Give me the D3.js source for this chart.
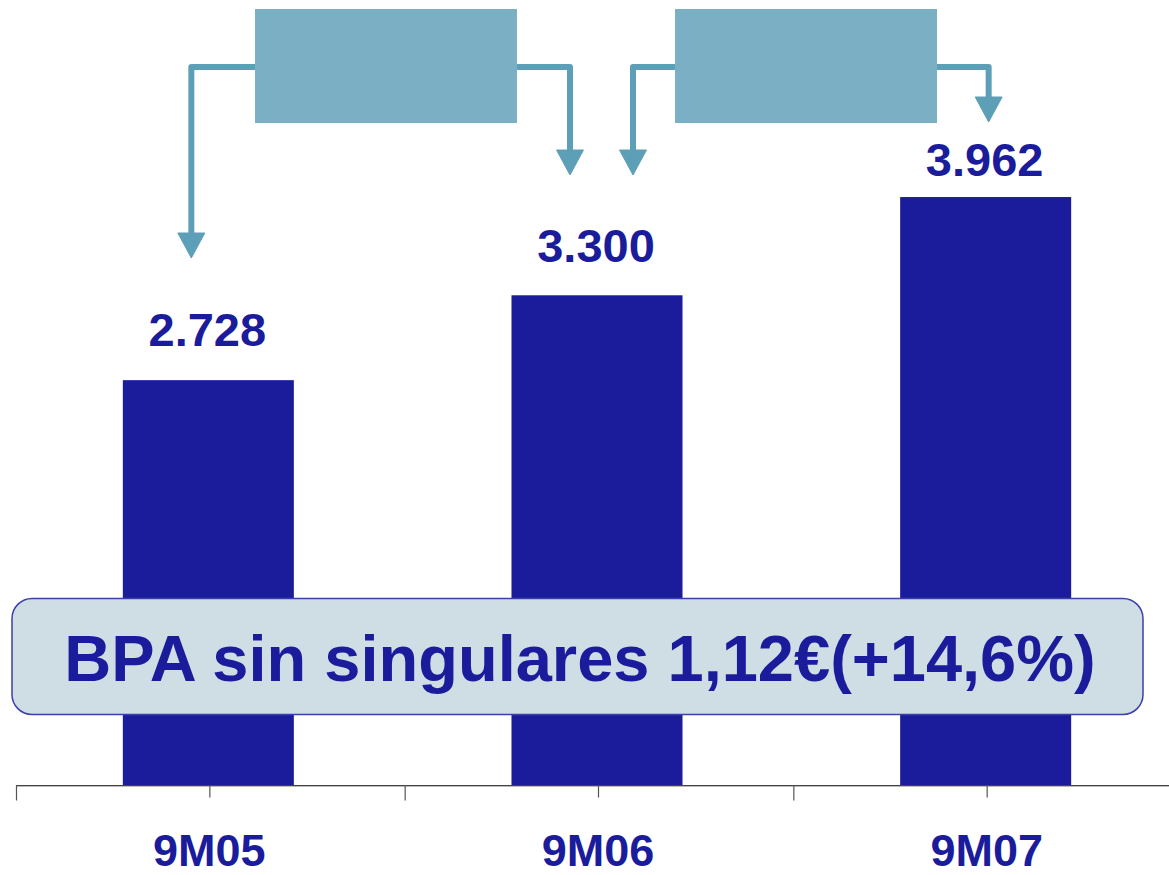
<!DOCTYPE html>
<html><head><meta charset="utf-8">
<script src="https://cdn.jsdelivr.net/npm/d3@7/dist/d3.min.js"></script>
<style>html,body{margin:0;padding:0;background:#fff;}svg{display:block;}</style>
</head><body>
<svg id="chart" width="1169" height="875"></svg>
<script>
const categories = ["9M05", "9M06", "9M07"];
const values = [2728, 3300, 3962];
const summaryText = "BPA sin singulares 1,12€(+14,6%)";

const W = 1169, H = 875;
const svg = d3.select("#chart");
const navy = "#1A1C9C";
const font = "'Liberation Sans', Arial, Helvetica, sans-serif";

const x = d3.scaleBand().domain(categories).range([15, 1181]).padding(0);
const y = d3.scaleLinear().domain([0, 5000]).range([785, 43]);
const barW = x.bandwidth() * 0.44;
const cx = c => x(c) + x.bandwidth() / 2;

const es = d3.formatLocale({decimal: ",", thousands: ".", grouping: [3], currency: ["", "€"]});
const fmt = es.format(",d");

// bars
svg.append("g").selectAll("rect").data(values).join("rect")
  .attr("x", (d, i) => cx(categories[i]) - barW / 2 - 1)
  .attr("y", d => y(d))
  .attr("width", barW)
  .attr("height", d => y(0) - y(d))
  .attr("fill", navy);

// value labels (gap above bar differs slightly in the original)
const labelGap = [34, 33, 21.5];
svg.append("g").selectAll("text").data(values).join("text")
  .attr("x", (d, i) => cx(categories[i]) - 2)
  .attr("y", (d, i) => y(d) - labelGap[i])
  .attr("text-anchor", "middle")
  .attr("font-family", font).attr("font-weight", "bold").attr("font-size", 47)
  .attr("fill", navy)
  .text(d => fmt(d));

// axis
const axisG = svg.append("g");
axisG.append("line").attr("x1", 16.5).attr("x2", W).attr("y1", 786.5).attr("y2", 786.5)
  .attr("stroke", "#bbb").attr("stroke-width", 1.2);
axisG.append("line").attr("x1", 16.5).attr("x2", W).attr("y1", 785.5).attr("y2", 785.5)
  .attr("stroke", "#444").attr("stroke-width", 1.2);
categories.forEach(c => {
  axisG.append("line").attr("x1", x(c) + 1.5).attr("x2", x(c) + 1.5).attr("y1", 785).attr("y2", 800.5)
    .attr("stroke", "#555").attr("stroke-width", 1.2);
  axisG.append("line").attr("x1", cx(c) + 0.5).attr("x2", cx(c) + 0.5).attr("y1", 785).attr("y2", 797.5)
    .attr("stroke", "#555").attr("stroke-width", 1.2);
});
// category labels
svg.append("g").selectAll("text").data(categories).join("text")
  .attr("x", d => cx(d))
  .attr("y", 866)
  .attr("text-anchor", "middle")
  .attr("font-family", font).attr("font-weight", "bold").attr("font-size", 45)
  .attr("fill", navy)
  .text(d => d);

// growth connector boxes (empty teal boxes with arrows)
const teal = "#7BAFC4", tealLine = "#5E9FB8";
const connectors = [
  {box: [255, 517], from: {dx: -18, c: 0, tip: 258}, to: {dx: -28, c: 1, tip: 175}},
  {box: [675, 937], from: {dx: 35, c: 1, tip: 175}, to: {dx: 2, c: 2, tip: 122}}
];
const lineY = 67, headW = 27, headH = 25;
const cg = svg.append("g");
connectors.forEach(k => {
  const lx = cx(categories[k.from.c]) + k.from.dx;
  const rx = cx(categories[k.to.c]) + k.to.dx;
  const path = d3.path();
  path.moveTo(lx, k.from.tip - headH + 2);
  path.lineTo(lx, lineY);
  path.lineTo(rx, lineY);
  path.lineTo(rx, k.to.tip - headH + 2);
  cg.append("path").attr("d", path.toString()).attr("fill", "none")
    .attr("stroke", tealLine).attr("stroke-width", 6).attr("stroke-linejoin", "round");
  [[lx, k.from.tip], [rx, k.to.tip]].forEach(([ax, tip]) => {
    cg.append("path")
      .attr("d", `M${ax - headW / 2},${tip - headH} L${ax + headW / 2},${tip - headH} L${ax},${tip} Z`)
      .attr("fill", tealLine).attr("stroke", tealLine).attr("stroke-width", 1).attr("stroke-linejoin", "round");
  });
  cg.append("rect").attr("x", k.box[0]).attr("y", 9)
    .attr("width", k.box[1] - k.box[0]).attr("height", 114)
    .attr("fill", teal);
});

// summary box
const sb = svg.append("g");
sb.append("rect").attr("x", 12).attr("y", 598.5).attr("width", 1131).attr("height", 116)
  .attr("rx", 20).attr("ry", 20)
  .attr("fill", "#CFDDE5").attr("stroke", "#3C40A8").attr("stroke-width", 1.5);
sb.append("text").attr("x", 580).attr("y", 681)
  .attr("text-anchor", "middle")
  .attr("font-family", font).attr("font-weight", "bold").attr("font-size", 65)
  .attr("fill", navy)
  .text(summaryText);
</script>
</body></html>
